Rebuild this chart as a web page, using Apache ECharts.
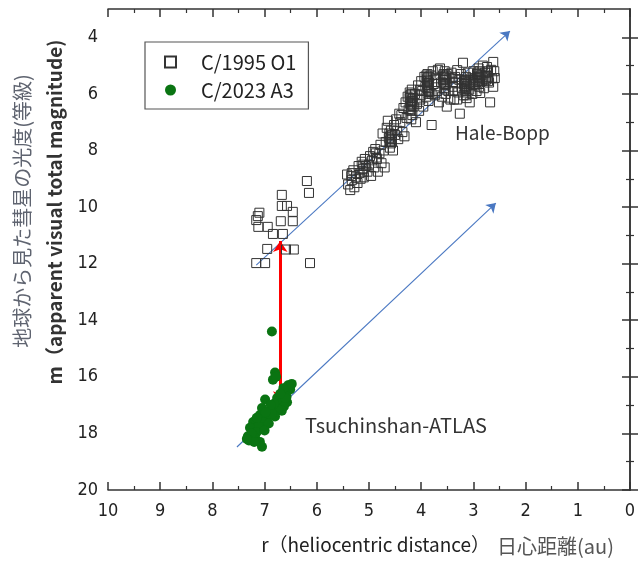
<!DOCTYPE html>
<html>
<head>
<meta charset="utf-8">
<script src="https://cdn.jsdelivr.net/npm/echarts@6/dist/echarts.min.js"></script>
<style>
  html, body { margin: 0; padding: 0; background: #fff; }
  #main { width: 644px; height: 561px; }
</style>
</head>
<body>
<div id="main"></div>
<script>
// r (au), m (mag)
var haleBopp = [
  [6.19, 9.08], [6.15, 9.5], [6.67, 9.57], [6.67, 9.96], [6.57, 9.96], [6.46, 10.17], [7.10, 10.2], [7.13, 10.32],
  [7.16, 10.46], [6.69, 10.5], [6.46, 10.5], [7.12, 10.7], [6.94, 10.7], [6.84, 10.95], [6.65, 10.95], [6.95, 11.48],
  [6.59, 11.5], [6.44, 11.5], [7.16, 11.98], [6.99, 11.98], [6.13, 11.98],
  [5.42, 8.85], [5.40, 9.2], [5.36, 9.4], [5.33, 9.05], [5.30, 8.7], [5.28, 9.3], [5.25, 8.95], [5.22, 9.15],
  [5.20, 8.55], [5.18, 8.8], [5.16, 9.0], [5.14, 8.4], [5.12, 8.65], [5.10, 8.95], [5.08, 8.3], [5.06, 8.55],
  [5.03, 8.75], [5.00, 8.5], [4.98, 8.2], [4.96, 8.9],
  [4.94, 8.35], [4.92, 8.05], [4.90, 8.6], [4.88, 7.95], [4.85, 8.3], [4.83, 8.75], [4.80, 8.1], [4.78, 7.8],
  [4.76, 8.45], [4.74, 7.4], [4.72, 8.0], [4.70, 8.6], [4.68, 7.7], [4.66, 7.2], [4.64, 6.95], [4.62, 7.55],
  [4.60, 7.9], [4.58, 7.3], [4.56, 7.7], [4.54, 8.0],
  [4.52, 7.1], [4.50, 7.45], [4.48, 6.9], [4.46, 7.3], [4.44, 7.6], [4.42, 6.7], [4.40, 7.0], [4.38, 6.75],
  [4.36, 7.35], [4.34, 6.5], [4.32, 7.5], [4.30, 6.3], [4.28, 6.85], [4.26, 6.1], [4.24, 6.55], [4.22, 5.95],
  [4.20, 6.3], [4.19, 6.6], [4.18, 5.85], [4.17, 6.75], [4.16, 6.15], [4.15, 6.45],
  [4.12, 6.0], [4.10, 7.0], [4.08, 6.35], [4.06, 5.7], [4.04, 6.6], [4.02, 6.2], [4.00, 5.55], [3.98, 5.9],
  [3.96, 6.45], [3.94, 5.4], [3.92, 5.75], [3.90, 6.1], [3.89, 5.5], [3.88, 5.3], [3.87, 5.85], [3.86, 6.25],
  [3.85, 5.6], [3.84, 5.95], [3.82, 5.35], [3.80, 7.1], [3.80, 6.0], [3.78, 5.2], [3.76, 5.65],
  [3.74, 6.05], [3.72, 5.45], [3.70, 5.9], [3.68, 5.15], [3.66, 6.3], [3.64, 5.1], [3.62, 5.6], [3.60, 6.1],
  [3.58, 5.35], [3.56, 5.8], [3.55, 5.2], [3.54, 5.5], [3.53, 6.0], [3.52, 5.65], [3.51, 6.45], [3.50, 5.3],
  [3.48, 5.9], [3.46, 5.45], [3.44, 6.2], [3.42, 5.25], [3.40, 5.75],
  [3.39, 5.9], [3.37, 6.2], [3.35, 5.4], [3.33, 5.6], [3.31, 5.16], [3.31, 6.2], [3.29, 5.95], [3.27, 5.5],
  [3.26, 6.7], [3.24, 5.3], [3.22, 5.8], [3.20, 4.9], [3.19, 6.05], [3.17, 5.55], [3.16, 5.75], [3.15, 5.95],
  [3.14, 5.4], [3.13, 6.15], [3.12, 5.7], [3.10, 5.25], [3.08, 5.85], [3.07, 6.3], [3.06, 5.6], [3.04, 5.45],
  [3.02, 6.0],
  [3.00, 5.2], [2.98, 5.7], [2.96, 5.45], [2.94, 5.9], [2.93, 5.3], [2.92, 5.55], [2.90, 5.1], [2.89, 5.75],
  [2.87, 5.97], [2.86, 5.35], [2.84, 5.55], [2.82, 5.0], [2.80, 5.8], [2.78, 5.25], [2.76, 5.5], [2.74, 5.05],
  [2.72, 5.35], [2.70, 5.6], [2.68, 6.3], [2.66, 5.15], [2.64, 5.45], [2.62, 4.87], [2.62, 5.75], [2.60, 5.2],
  [2.59, 5.44],
  [4.21, 6.05], [4.20, 6.45], [4.19, 6.9], [4.18, 6.2], [3.88, 5.45], [3.87, 5.7], [3.86, 6.0], [3.56, 5.4],
  [3.55, 5.65], [3.54, 5.85], [3.16, 5.5], [3.15, 5.8], [3.14, 6.05], [2.91, 5.25], [2.90, 5.5], [2.89, 5.65],
  [4.59, 7.5], [4.58, 7.75], [5.11, 8.5], [5.10, 8.75], [2.72, 5.2], [2.71, 5.45],
  [4.22, 6.15], [4.21, 6.35], [4.20, 6.55], [4.19, 6.0], [4.18, 6.4], [4.17, 6.25], [3.90, 5.35], [3.89, 5.6],
  [3.88, 5.8], [3.87, 5.55], [3.86, 5.4], [3.85, 5.9], [3.58, 5.5], [3.57, 5.3], [3.56, 5.6], [3.55, 5.45],
  [3.54, 5.7], [3.53, 5.35], [3.18, 5.65], [3.17, 5.85], [3.16, 5.6], [3.15, 5.65], [3.14, 5.9], [3.13, 5.5],
  [2.92, 5.4], [2.91, 5.6], [2.90, 5.35], [2.89, 5.45], [2.88, 5.2], [2.74, 5.25], [2.73, 5.4], [2.72, 5.55],
  [4.61, 7.4], [4.60, 7.65], [4.57, 7.6], [4.56, 7.45], [4.87, 8.1], [4.86, 8.25], [5.34, 8.9], [5.33, 8.8],
  [4.02, 5.85], [4.01, 6.05], [3.40, 5.45], [3.39, 5.6], [3.01, 5.5], [3.00, 5.65]
];
var tsuchinshan = [
  [6.86, 14.4], [6.80, 15.85], [6.84, 16.1], [6.78, 16.0], [6.55, 16.3], [6.51, 16.45], [6.61, 16.55], [6.58, 16.7],
  [6.99, 16.8], [6.76, 16.75], [6.57, 16.9], [6.70, 16.95], [6.63, 17.05], [6.67, 17.2], [6.90, 17.2], [6.74, 17.15],
  [6.80, 17.4], [7.09, 17.35], [6.95, 17.45], [6.86, 17.3], [7.22, 17.6], [7.03, 17.6], [6.92, 17.65], [7.12, 17.75],
  [7.28, 17.8], [7.15, 17.95], [7.00, 17.9], [7.32, 18.1], [7.18, 18.16], [7.25, 18.0], [7.09, 18.3], [7.05, 18.47],
  [7.30, 18.25], [7.20, 18.3], [7.34, 18.2], [6.64, 16.4], [6.60, 16.75], [6.70, 16.6], [6.82, 16.95], [6.88, 17.0],
  [7.05, 17.1], [7.15, 17.45], [6.98, 17.25], [6.48, 16.25]
];
// trend arrows [start, end]
var trendHB = [[7.16, 12.05], [2.30, 3.78]];
var trendTA = [[7.53, 18.48], [2.57, 9.86]];
var gapArrow = [[6.70, 11.2], [6.70, 16.9]];
var xTicks = [0, 10];
var yTicks = [4, 20];

var numFont = "'Liberation Sans Narrow', 'DejaVu Sans Condensed', 'Liberation Sans', sans-serif";
var jpFont = "'Noto Sans CJK JP', sans-serif";

var G = { left: 108, right: 14, top: 9, bottom: 71 };
var yTop2 = G.top + (481 / 17) * (yTicks[0] - 3);

var myChart = echarts.init(document.getElementById('main'), null, { renderer: 'canvas' });
myChart.setOption({
    animation: false,
    backgroundColor: '#fff',
    grid: [
        { left: G.left, right: G.right, top: G.top, bottom: G.bottom },
        { left: G.left, right: G.right, top: yTop2, bottom: G.bottom }
    ],
    legend: {
        orient: 'vertical',
        left: 145, top: 42,
        padding: [10, 12, 9, 19],
        itemWidth: 11, itemHeight: 11, itemGap: 8,
        borderColor: '#555', borderWidth: 1.2,
        textStyle: { fontFamily: jpFont, fontSize: 20, color: '#222', lineHeight: 20, padding: [0, 0, 0, 20] },
        data: ['C/1995 O1', 'C/2023 A3']
    },
    xAxis: [
        {   // bottom
            gridIndex: 0, type: 'value', position: 'bottom', inverse: true,
            min: xTicks[0], max: xTicks[1], interval: 1,
            axisLine: { lineStyle: { color: '#333', width: 1.5 } },
            axisTick: { inside: true, length: 8, lineStyle: { color: '#333', width: 1.5 } },
            minorTick: { show: true, splitNumber: 2, length: 4, lineStyle: { color: '#333', width: 1.2 } },
            axisLabel: { margin: 12, fontFamily: numFont, fontSize: 18, color: '#222' },
            splitLine: { show: false }
        },
        {   // top
            gridIndex: 0, type: 'value', position: 'top', inverse: true,
            min: xTicks[0], max: xTicks[1], interval: 1,
            axisLine: { lineStyle: { color: '#333', width: 1.5 } },
            axisTick: { inside: true, length: 8, lineStyle: { color: '#333', width: 1.5 } },
            minorTick: { show: true, splitNumber: 2, length: 4, lineStyle: { color: '#333', width: 1.2 } },
            axisLabel: { show: false },
            splitLine: { show: false }
        },
        {
            gridIndex: 1, type: 'value', inverse: true, min: xTicks[0], max: xTicks[1], show: false
        }
    ],
    yAxis: [
        {   // frame left (3..20)
            gridIndex: 0, type: 'value', position: 'left', inverse: true, min: 3, max: 20,
            axisLine: { show: true, lineStyle: { color: '#333', width: 1.5 } },
            axisTick: { show: false }, axisLabel: { show: false }, splitLine: { show: false }
        },
        {   // frame right
            gridIndex: 0, type: 'value', position: 'right', inverse: true, min: 3, max: 20,
            axisLine: { show: true, lineStyle: { color: '#333', width: 1.5 } },
            axisTick: { show: false }, axisLabel: { show: false }, splitLine: { show: false }
        },
        {   // left ticks and labels 4..20
            gridIndex: 1, type: 'value', position: 'left', inverse: true,
            min: yTicks[0], max: yTicks[1], interval: 2,
            axisLine: { show: false },
            axisTick: { show: true, inside: true, length: 8, lineStyle: { color: '#333', width: 1.5 } },
            minorTick: { show: true, splitNumber: 2, length: 4, lineStyle: { color: '#333', width: 1.2 } },
            axisLabel: { margin: 10, fontFamily: numFont, fontSize: 18, color: '#222' },
            splitLine: { show: false }
        },
        {   // right ticks
            gridIndex: 1, type: 'value', position: 'right', inverse: true,
            min: yTicks[0], max: yTicks[1], interval: 2,
            axisLine: { show: false },
            axisTick: { show: true, inside: true, length: 8, lineStyle: { color: '#333', width: 1.5 } },
            minorTick: { show: true, splitNumber: 2, length: 4, lineStyle: { color: '#333', width: 1.2 } },
            axisLabel: { show: false },
            splitLine: { show: false }
        }
    ],
    series: [
        {
            name: 'C/1995 O1', type: 'scatter', xAxisIndex: 0, yAxisIndex: 0,
            symbol: 'rect', symbolSize: 9,
            itemStyle: { color: 'rgba(255,255,255,0)', borderColor: '#333', borderWidth: 1, opacity: 1 },
            data: haleBopp, silent: true
        },
        {
            name: 'C/2023 A3', type: 'scatter', xAxisIndex: 0, yAxisIndex: 0,
            symbol: 'circle', symbolSize: 10,
            itemStyle: { color: '#0a7412', opacity: 1 },
            data: tsuchinshan, silent: true
        },
        {
            type: 'lines', coordinateSystem: 'cartesian2d', xAxisIndex: 0, yAxisIndex: 0,
            symbol: ['none', 'arrow'], symbolSize: 9,
            lineStyle: { color: '#4a78c2', width: 1.1, opacity: 1 },
            data: [{ coords: trendHB }, { coords: trendTA }], silent: true
        },
        {
            type: 'lines', coordinateSystem: 'cartesian2d', xAxisIndex: 0, yAxisIndex: 0,
            symbol: ['arrow', 'arrow'], symbolSize: 11,
            lineStyle: { color: '#ff0000', width: 3, opacity: 1 },
            data: [{ coords: gapArrow }], silent: true
        }
    ],
    graphic: [
        { type: 'text', left: 455, top: 123, style: { text: 'Hale-Bopp', font: '19px ' + jpFont, fill: '#333' } },
        { type: 'text', left: 305, top: 415, style: { text: 'Tsuchinshan-ATLAS', font: '20px ' + jpFont, fill: '#333' } },
        {
            type: 'text', x: 22, y: 211, rotation: Math.PI / 2,
            style: { text: '地球から見た彗星の光度(等級)', font: '20px ' + jpFont, fill: '#5f6470', align: 'center', verticalAlign: 'middle' }
        },
        {
            type: 'text', x: 55, y: 212, rotation: Math.PI / 2,
            style: { text: 'm（apparent visual total magnitude)', font: 'bold 19px ' + jpFont, fill: '#333', align: 'center', verticalAlign: 'middle' }
        },
        {
            type: 'text', x: 490, y: 545,
            style: { text: 'r（heliocentric distance）', font: '19px ' + jpFont, fill: '#222', align: 'right', verticalAlign: 'middle' }
        },
        {
            type: 'text', x: 497, y: 546,
            style: { text: '日心距離(au)', font: '20px ' + jpFont, fill: '#555', align: 'left', verticalAlign: 'middle' }
        }
    ]
});
</script>
</body>
</html>
